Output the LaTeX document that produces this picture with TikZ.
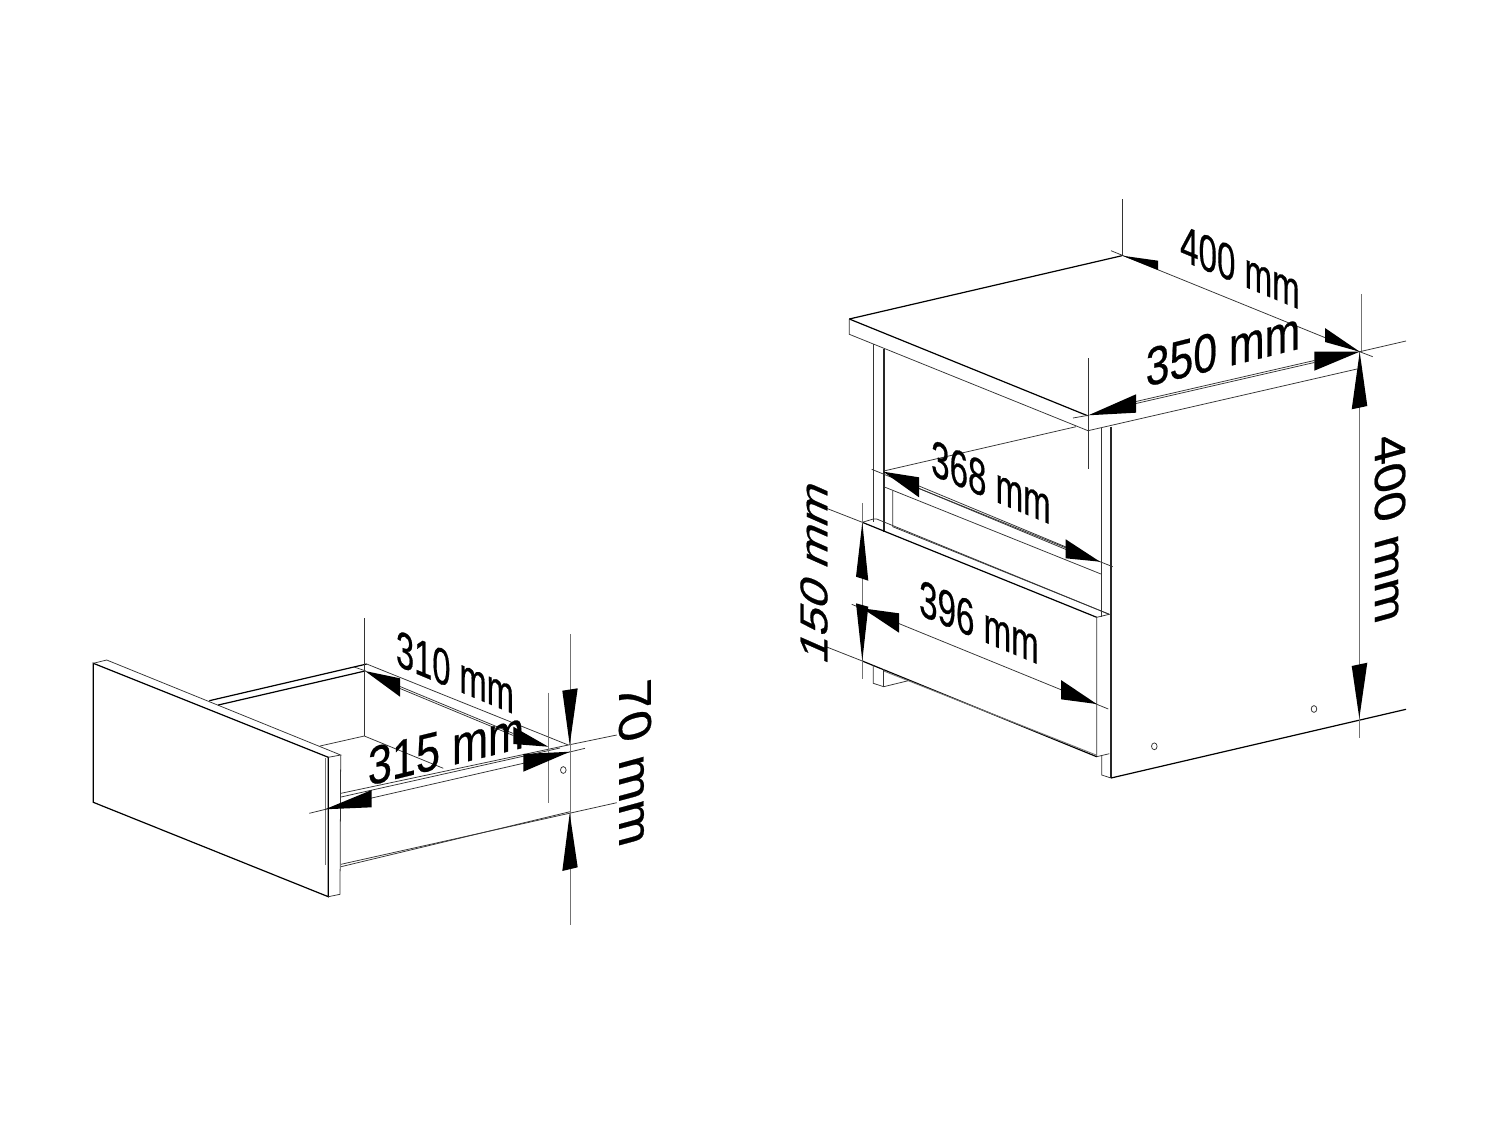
\documentclass[tikz,border=0pt]{standalone}
\usepackage{fontspec}
\setmainfont{Liberation Sans}[BoldFont={Liberation Sans},BoldFeatures={FakeBold=0.5}]
\tikzset{
  thinl/.style={line width=0.38pt,draw=black!80},
  body/.style={line width=0.6pt,draw=black},
  heavy/.style={line width=0.85pt,draw=black!85},
  faint/.style={line width=0.45pt,draw=black!55},
  tip/.style={fill=black,draw=none},
  dimtxt/.style={font=\fontsize{23}{23}\selectfont\bfseries,inner sep=0pt,text=black}
}
\begin{document}
\begin{tikzpicture}[x=0.5pt,y=-0.5pt]
\useasboundingbox (0,0) rectangle (1500,1125);
% ---- cabinet
\draw[body] (849.3,319)--(1122,255.7);
\draw[body] (849.3,319)--(1087.5,415.7);
\draw[thinl] (849.3,319)--(849.3,334.3)--(1088,430.7)--(1357,369);
\draw[thinl] (1088,415.7)--(1088,430.7);
% dim 350 double line on front edge
\draw[thinl] (1136,401.5)--(1314.3,360.5);
\draw[thinl] (1136,403.5)--(1314.3,362.5);
% legs and sides
\draw[thinl] (873.3,344)--(873.3,522);
\draw[heavy] (883.7,349)--(883.7,531.7);
\draw[thinl] (1101.7,428)--(1101.7,617);
\draw[heavy] (1111,426.7)--(1111,778);
\draw[thinl] (1101.7,755)--(1101.7,775)--(1111,778);
\draw[body] (1111,778)--(1406,709.3);
% shelf
\draw[thinl] (883.7,471)--(1076,426.7);
\draw[thinl] (883.7,486.7)--(1101.7,574.3);
\draw[thinl] (892.7,490.7)--(892.7,526.7)--(1109.3,614.3);
% drawer front
\draw[body] (862.3,522.3)--(1096.7,617.3);
\draw[thinl] (862.3,522.3)--(873.3,519)--(876.7,519)--(1109.3,614.3)--(1096.7,617.3);
\draw[thinl] (1096.7,617.3)--(1096.7,756.7)--(1109.3,753.7);
\draw[body] (862.3,661)--(1096.7,756.7);
\draw[faint] (883.7,671)--(1096.7,755.2);
% leg bottom
\draw[thinl] (873.3,665)--(873.3,683.3)--(883.7,686.7)--(908.3,680.7);
\draw[thinl] (883.7,669)--(883.7,686.7);
% holes
\draw[thinl] (1154.3,746.3) ellipse [x radius=2.8,y radius=3.4];
\draw[thinl] (1314,709) ellipse [x radius=2.8,y radius=3.4];
% dim extension lines
\draw[thinl] (1122.4,199.3)--(1122.4,255.7);
\draw[thinl] (1111,250.7)--(1359.7,351.7)--(1372.7,356.7);
\draw[faint] (1361,294)--(1361,351.7);
\draw[thinl] (1088.5,358.3)--(1088.5,469.3);
\draw[thinl] (1073,418)--(1088.3,415.3);
\draw[thinl] (1359.7,351.7)--(1406,341);
\draw[faint] (1359.5,352)--(1359.5,738.3);
\draw[thinl] (871.7,469.3)--(1100,561.7)--(1112.7,566.7);
\draw[thinl] (919,486)--(1066,547);
\draw[thinl] (919,488.5)--(1066,549.5);
\draw[thinl] (851.7,604.3)--(1108.3,709);
\draw[faint] (862.3,503.3)--(862.3,679.3);
\draw[thinl] (825,507.7)--(862.3,522.3);
\draw[thinl] (826,646.7)--(862.3,661);
% cabinet arrows
\fill[tip] (1122.3,255.7)--(1158,260.7)--(1158,270)--cycle;
\fill[tip] (1359.7,351.7)--(1325,328)--(1325,342)--cycle;
\fill[tip] (1088.3,415.3)--(1136,394.3)--(1136,412.7)--cycle;
\fill[tip] (1359.7,351.7)--(1314.3,351.7)--(1314.3,370.7)--cycle;
\fill[tip] (1359.7,352)--(1351.7,409.3)--(1367.3,406)--cycle;
\fill[tip] (1359.3,718.3)--(1351.7,666)--(1367.3,662.7)--cycle;
\fill[tip] (883.3,471.7)--(919,477.3)--(919,497.3)--cycle;
\fill[tip] (1100,561.7)--(1065.7,539.3)--(1065.7,558.3)--cycle;
\fill[tip] (862.3,608.3)--(899,613.3)--(899,632.7)--cycle;
\fill[tip] (1096.7,704)--(1061,680)--(1061,699.3)--cycle;
\fill[tip] (862.3,522.3)--(856,576.7)--(868.3,580.7)--cycle;
\fill[tip] (862.3,661)--(856,603.3)--(868.3,606.7)--cycle;
% cabinet labels
\node[dimtxt,cm={0.72,-0.30,0,1.12,(0,0)}] (t400top) at (1240,267) {400 mm};
\node[dimtxt,cm={0.93,0.23,0,1.18,(0,0)}] (t350) at (1223,349) {350 mm};
\node[dimtxt,cm={0.72,-0.30,0,1.12,(0,0)}] (t368) at (991,482) {368 mm};
\node[dimtxt,cm={0.72,-0.30,0,1.12,(0,0)}] (t396) at (979,622) {396 mm};
\node[dimtxt,cm={0,-1.125,0.95,0.26,(0,0)}] (t400side) at (1390,528) {400 mm};
\node[dimtxt,cm={0,1.07,-0.84,0.37,(0,0)}] (t150) at (814,571) {150 mm};
% ---- drawer
\draw[body] (93.3,663.3)--(328.3,757.3)--(328.3,896.7)--(93.3,802.3)--cycle;
\draw[thinl] (93.3,663.3)--(106.7,660)--(340.7,755)--(328.3,757.3);
\draw[thinl] (340.7,755)--(340,894.3)--(328.3,896.7);
\draw[faint] (325,758.3)--(325,865);
\draw[body] (209.3,700.7)--(366.7,664);
\draw[body] (218.3,705)--(365,671);
\draw[thinl] (366.7,664)--(568.3,745);
\draw[thinl] (354,667)--(366,671);
\draw[thinl] (320,746)--(364.3,736)--(443.3,768.3);
\draw[thinl] (364.5,618.3)--(364.5,736);
\draw[thinl] (341,793.3)--(568.3,745);
\draw[thinl] (341,797)--(560,748);
\draw[thinl] (371.7,798)--(523.3,763.3);
\draw[thinl] (341,866.7)--(570,811.7);
\draw[thinl] (341,864.3)--(616.7,802.7);
\draw[thinl] (400,686.5)--(513.3,733.5);
\draw[thinl] (400,688.5)--(513.3,735.5);
\draw[thinl] (309.3,813.3)--(371.7,798);
\draw[thinl] (523.3,763.3)--(585,748.3);
\draw[thinl] (568.3,745)--(616.7,735);
\draw[faint] (570,634)--(570,925);
\draw[faint] (548,692.7)--(548,803.3);
\draw[thinl] (563.3,770) ellipse [x radius=2.8,y radius=3.4];
% drawer arrows
\fill[tip] (365,671)--(400,678.3)--(400,696.7)--cycle;
\fill[tip] (548.3,746.7)--(513.3,726.7)--(513.3,744)--cycle;
\fill[tip] (325,809.3)--(371.7,790)--(371.7,807.3)--cycle;
\fill[tip] (570,751.7)--(523.3,754)--(523.3,771.7)--cycle;
\fill[tip] (569.7,745)--(562.3,690.7)--(577.7,688.3)--cycle;
\fill[tip] (569.7,813.3)--(562.3,871)--(577.7,867.3)--cycle;
% drawer labels
\node[dimtxt,cm={0.71,-0.295,0,1.12,(0,0)}] (t310) at (455,672) {310 mm};
\node[dimtxt,cm={0.94,0.23,0,1.18,(0,0)}] (t315) at (446,748) {315 mm};
\node[dimtxt,cm={0,-1.16,1.0,0.27,(0,0)}] (t70) at (635,763) {70 mm};
\end{tikzpicture}
\end{document}
